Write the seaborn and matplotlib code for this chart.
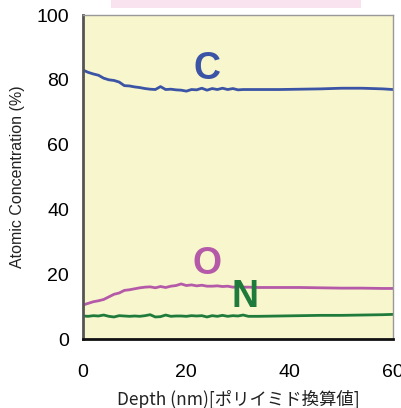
import numpy as np
import pandas as pd
import matplotlib
matplotlib.use("Agg")
import matplotlib.pyplot as plt
import seaborn as sns
from matplotlib.patches import Rectangle

depth = [0, 1, 2, 3, 4, 5, 6, 7, 8, 9, 10, 11, 12, 13, 14, 15, 16, 17, 18, 19, 20,
         21, 22, 23, 24, 25, 26, 27, 28, 29, 30, 31, 32, 34, 38, 42, 46, 50, 54, 58, 60]
carbon = [83.0, 82.3, 81.8, 81.4, 80.5, 80.0, 79.8, 79.3, 78.2, 78.1, 77.8, 77.6, 77.3, 77.1,
          77.0, 77.9, 77.0, 77.1, 76.9, 76.8, 76.5, 77.0, 76.9, 77.4, 76.8, 77.3, 77.0, 77.4,
          77.0, 77.3, 76.9, 77.0, 77.0, 77.0, 77.0, 77.1, 77.2, 77.4, 77.4, 77.2, 77.0]
oxygen = [10.5, 11.0, 11.5, 11.8, 12.2, 13.0, 13.8, 14.2, 15.0, 15.2, 15.5, 15.8, 16.0, 16.1,
          15.8, 16.2, 15.9, 16.3, 16.5, 17.0, 16.5, 16.7, 16.4, 16.6, 16.3, 16.3, 16.4, 16.2,
          16.3, 16.0, 16.1, 16.0, 16.0, 15.9, 15.9, 15.9, 15.8, 15.7, 15.7, 15.6, 15.6]
nitrogen = [7.1, 7.0, 7.2, 7.1, 7.4, 7.0, 6.8, 7.2, 7.1, 7.0, 7.1, 7.0, 7.2, 7.5, 6.8, 6.9,
            7.4, 7.0, 7.1, 7.1, 7.0, 7.2, 7.1, 7.2, 6.8, 7.2, 7.0, 7.3, 7.0, 7.2, 7.1, 7.4,
            7.0, 7.0, 7.1, 7.2, 7.3, 7.3, 7.4, 7.5, 7.6]
elements = ["C", "O", "N"]
colors = ["#3b54a5", "#b45aa8", "#1f7b3b"]
label_pos = [(24, 83.3), (24, 23), (31.3, 13)]
xticks = [0, 20, 40, 60]
yticks = [0, 20, 40, 60, 80, 100]

df = pd.concat([
    pd.DataFrame({"depth": depth, "conc": vals, "el": el})
    for el, vals in zip(elements, [carbon, oxygen, nitrogen])
])

sns.set_theme(style="white")
plt.rcParams["font.family"] = ["Noto Sans CJK JP", "DejaVu Sans"]

fig = plt.figure(figsize=(4.01, 4.08), dpi=100)
ax = fig.add_axes([83/401, 1-339/408, 310/401, 324/408])
ax.set_facecolor("#f8f6cd")

sns.lineplot(data=df, x="depth", y="conc", hue="el", palette=dict(zip(elements, colors)),
             linewidth=2, ax=ax, legend=False)

for el, c, (lx, ly) in zip(elements, colors, label_pos):
    ax.text(lx, ly, el, color=c, fontsize=27, fontweight="bold", ha="center", va="center",
            family=["Liberation Sans", "DejaVu Sans"])

ax.set_xlim(0, 60)
ax.set_ylim(0, 100)
ax.set_xticks(xticks)
ax.set_yticks(yticks)
ax.tick_params(axis="both", direction="in", length=7, width=1, color="black",
               labelsize=14, labelcolor="black")
ax.tick_params(axis="x", pad=18)
ax.tick_params(axis="y", pad=10)
for lab in ax.get_xticklabels() + ax.get_yticklabels():
    lab.set_family(["Liberation Sans", "DejaVu Sans"])

ax.spines["left"].set_color("#555555")
ax.spines["left"].set_linewidth(2)
ax.spines["bottom"].set_color("#111111")
ax.spines["bottom"].set_linewidth(2)
ax.spines["top"].set_color("#999999")
ax.spines["top"].set_linewidth(1)
ax.spines["right"].set_color("#999999")
ax.spines["right"].set_linewidth(1)

ax.set_xlabel("Depth (nm)[ポリイミド換算値]", fontsize=12.5, color="#222222", labelpad=6)
ax.set_ylabel("Atomic Concentration (%)", fontsize=11.5, color="#222222", labelpad=8,
              family=["Liberation Sans", "DejaVu Sans"])

fig.patches.append(Rectangle((111/401, 1-8/408), 250/401, 8/408, transform=fig.transFigure,
                             facecolor="#f9e3ef", edgecolor="none", zorder=0))

fig.savefig("out.png", dpi=100)
